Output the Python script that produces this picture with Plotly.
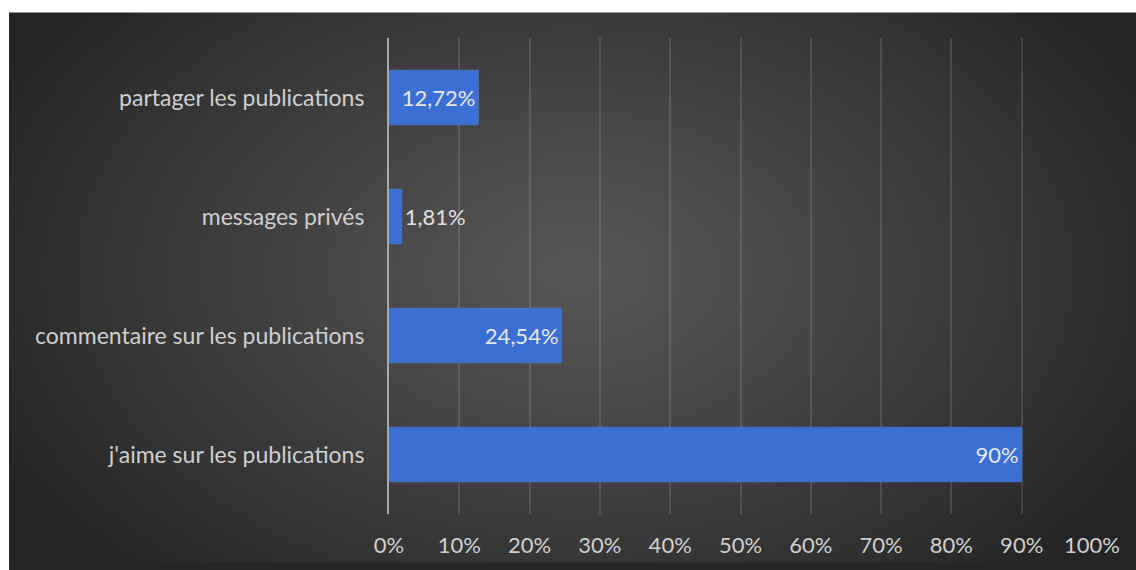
import base64, zlib, struct
import numpy as np
import plotly.graph_objects as go

# ---- data ----
categories = ["j'aime sur les publications", "commentaire sur les publications",
              "messages privés", "partager les publications"]
values = [90, 24.54, 1.81, 12.72]
text_positions = ["inside", "inside", "outside", "inside"]
tick_vals = [0, 10, 20, 30, 40, 50, 60, 70, 80, 90, 100]

labels = [f"{v:g}".replace(".", ",") + "%" for v in values]
tick_text = [f"{t}%" for t in tick_vals]

# ---- radial-gradient background image ----
def make_png(w, h):
    yy, xx = np.mgrid[0:h, 0:w].astype(float)
    cx, cy = w * 0.50, h * 0.47
    r = np.sqrt(((xx - cx) / (w * 0.58)) ** 2 + ((yy - cy) / (h * 0.78)) ** 2)
    r = np.clip(r, 0, 1)
    c_in, c_out = 0x57, 0x25
    v = c_in + (c_out - c_in) * r ** 1.1
    img = np.stack([v, v, v], axis=-1).astype(np.uint8)
    raw = b"".join(b"\x00" + img[i].tobytes() for i in range(h))
    def chunk(t, d):
        c = struct.pack(">I", len(d)) + t + d
        return c + struct.pack(">I", zlib.crc32(t + d) & 0xffffffff)
    png = b"\x89PNG\r\n\x1a\n" + chunk(b"IHDR", struct.pack(">IIBBBBB", w, h, 8, 2, 0, 0, 0))
    png += chunk(b"IDAT", zlib.compress(raw, 9)) + chunk(b"IEND", b"")
    return "data:image/png;base64," + base64.b64encode(png).decode()

bg = make_png(400, 200)

W, H = 1136, 570
ml, mr, mt, mb = 389, 44, 38, 49
pw, ph = W - ml - mr, H - mt - mb
x0 = (9 - ml) / pw
x1 = (W - ml) / pw
y0 = (H - mb - 12) / ph
y1 = (H - mb - H) / ph
px_left = (0 - ml) / pw
py_top = (H - mb) / ph

FONT = "Lato"
fig = go.Figure()
fig.add_trace(go.Bar(
    y=categories, x=values, orientation="h",
    marker=dict(color="#3c6fd3", line=dict(color="#5585de", width=0.5)),
    width=0.46,
    text=labels, textposition=text_positions, insidetextanchor="end",
    textfont=dict(family=FONT, size=22, color="#e4e8f2"),
    outsidetextfont=dict(family=FONT, size=22, color="#e0e0e0"),
    insidetextfont=dict(family=FONT, size=22, color="#e4e8f2"),
    cliponaxis=False,
))

fig.update_layout(
    width=W, height=H,
    margin=dict(l=ml, r=mr, t=mt, b=mb, pad=0),
    paper_bgcolor="#262626",
    plot_bgcolor="rgba(0,0,0,0)",
    showlegend=False,
    font=dict(family=FONT, color="#cfcfcf", size=22),
    images=[dict(source=bg, xref="paper", yref="paper", x=x0, y=y0,
                 sizex=x1 - x0, sizey=y0 - y1, sizing="stretch",
                 xanchor="left", yanchor="top", layer="below")],
    shapes=[
        dict(type="rect", xref="paper", yref="paper", x0=px_left, x1=x0,
             y0=y1 - 0.1, y1=py_top + 0.1, fillcolor="white", line_width=0, layer="below"),
        dict(type="rect", xref="paper", yref="paper", x0=px_left, x1=x1 + 0.1,
             y0=y0, y1=py_top + 0.1, fillcolor="white", line_width=0, layer="below"),
    ],
)
fig.update_xaxes(range=[0, 100], tickvals=tick_vals, ticktext=tick_text,
                 showgrid=True, gridcolor="rgba(255,255,255,0.12)", gridwidth=2,
                 zeroline=False, showline=False,
                 ticks="outside", ticklen=12, tickcolor="rgba(0,0,0,0)",
                 tickfont=dict(family=FONT, size=22, color="#cfcfcf"))
fig.update_yaxes(showline=True, linecolor="#a8a8a8", linewidth=2,
                 showgrid=False, zeroline=False,
                 ticks="outside", ticklen=18, tickcolor="rgba(0,0,0,0)",
                 tickfont=dict(family=FONT, size=23, color="#cfcfcf"))

fig.write_html("out.html")
